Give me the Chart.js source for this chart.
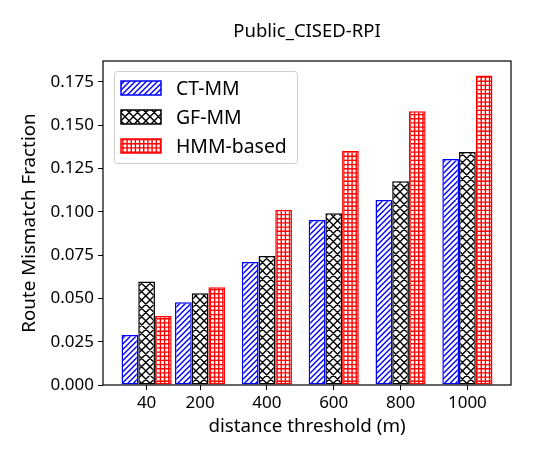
<!DOCTYPE html>
<html>
<head>
<meta charset="utf-8">
<script src="https://cdn.jsdelivr.net/npm/chart.js@4/dist/chart.umd.min.js"></script>
<style>
  html, body { margin: 0; padding: 0; background: #fff; }
  #wrap { width: 534px; height: 459px; }
</style>
</head>
<body>
<div id="wrap"><canvas id="chart"></canvas></div>
<script>
const thresholds = [40, 200, 400, 600, 800, 1000];
const xTickLabels = ['40', '200', '400', '600', '800', '1000'];
const yTicks = [0, 0.025, 0.05, 0.075, 0.1, 0.125, 0.15, 0.175];
const seriesNames = ['CT-MM', 'GF-MM', 'HMM-based'];
const ctmm = [0.0289, 0.0478, 0.0710, 0.0953, 0.1068, 0.1305];
const gfmm = [0.0597, 0.0530, 0.0745, 0.0992, 0.1176, 0.1346];
const hmm = [0.0398, 0.0564, 0.1011, 0.1351, 0.1581, 0.1787];
const chartTitle = 'Public_CISED-RPI';

const FONT = '"Noto Sans", "Open Sans", sans-serif';

// hatch patterns, tile is 100px so the line spacing can be fractional
function makeHatch(kind, color, n) {
    const size = 100;
    const c = document.createElement('canvas');
    c.width = size;
    c.height = size;
    const g = c.getContext('2d');
    g.fillStyle = '#fff';
    g.fillRect(0, 0, size, size);
    g.strokeStyle = color;
    g.lineWidth = 1.4;
    const s = size / n;
    g.beginPath();
    if (kind === '/' || kind === 'x') {
        for (let i = -n; i <= n; i++) {
            g.moveTo(i * s, size);
            g.lineTo(i * s + size, 0);
        }
    }
    if (kind === 'x') {
        for (let i = -n; i <= n; i++) {
            g.moveTo(i * s, 0);
            g.lineTo(i * s + size, size);
        }
    }
    if (kind === '+') {
        for (let i = 0; i < n; i++) {
            g.moveTo(i * s + s / 2, 0);
            g.lineTo(i * s + s / 2, size);
            g.moveTo(0, i * s + s / 2);
            g.lineTo(size, i * s + s / 2);
        }
    }
    g.stroke();
    return document.getElementById('chart').getContext('2d').createPattern(c, 'repeat');
}

const colors = ['#0000ff', '#000000', '#ff0000'];
const patterns = [
    makeHatch('/', colors[0], 18),
    makeHatch('x', colors[1], 12),
    makeHatch('+', colors[2], 24)
];

function points(vals) {
    return thresholds.map((t, i) => ({ x: t, y: vals[i] }));
}

const allSeries = [ctmm, gfmm, hmm];
const datasets = allSeries.map((vals, i) => ({
    label: seriesNames[i],
    data: points(vals),
    backgroundColor: patterns[i],
    borderColor: colors[i],
    borderWidth: 1.5,
    borderSkipped: false,
    barPercentage: 1,
    categoryPercentage: 150 / 160
}));

// title over the plot area, frame around it and the boxed legend
const framePlugin = {
    id: 'frame',
    afterDatasetsDraw(chart) {
        const ctx = chart.ctx;
        const a = chart.chartArea;
        ctx.save();
        ctx.strokeStyle = '#000';
        ctx.lineWidth = 1.2;
        ctx.strokeRect(a.left, a.top, a.right - a.left, a.bottom - a.top);

        ctx.fillStyle = '#000';
        ctx.font = '18.5px ' + FONT;
        ctx.textAlign = 'center';
        ctx.textBaseline = 'middle';
        ctx.fillText(chartTitle, (a.left + a.right) / 2, 32);

        // legend
        const lx = a.left + 11, ly = a.top + 10, lw = 183, lh = 92;
        ctx.fillStyle = 'rgba(255,255,255,0.8)';
        ctx.strokeStyle = '#cccccc';
        ctx.lineWidth = 1;
        ctx.beginPath();
        ctx.roundRect(lx + 0.5, ly + 0.5, lw, lh, 3);
        ctx.fill();
        ctx.stroke();
        ctx.font = '19.4px ' + FONT;
        ctx.textAlign = 'left';
        chart.data.datasets.forEach((ds, i) => {
            const cy = ly + 17 + i * 29;
            ctx.fillStyle = ds.backgroundColor;
            ctx.fillRect(lx + 7, cy - 7, 40, 14);
            ctx.strokeStyle = ds.borderColor;
            ctx.lineWidth = 1.5;
            ctx.strokeRect(lx + 7, cy - 7, 40, 14);
            ctx.fillStyle = '#000';
            ctx.fillText(ds.label, lx + 62, cy + 1);
        });
        ctx.restore();
    }
};

new Chart(document.getElementById('chart'), {
    type: 'bar',
    data: { datasets: datasets },
    plugins: [framePlugin],
    options: {
        responsive: true,
        maintainAspectRatio: false,
        animation: false,
        layout: { padding: { left: 0, right: 23, top: 61, bottom: 0 } },
        plugins: {
            legend: { display: false },
            tooltip: { enabled: false },
            title: { display: false }
        },
        scales: {
            x: {
                type: 'linear',
                min: -90.5,
                max: 1130.5,
                offset: false,
                afterFit(scale) { scale.height = 74; },
                afterBuildTicks(scale) {
                    scale.ticks = thresholds.map(v => ({ value: v }));
                },
                ticks: {
                    color: '#000',
                    font: { family: FONT, size: 17 },
                    padding: 3,
                    maxRotation: 0,
                    autoSkip: false,
                    callback: (v) => xTickLabels[thresholds.indexOf(v)]
                },
                grid: {
                    offset: false,
                    drawOnChartArea: false,
                    drawTicks: true,
                    tickLength: 5,
                    color: '#000',
                    lineWidth: 1
                },
                border: { display: false },
                title: {
                    display: true,
                    text: 'distance threshold (m)',
                    color: '#000',
                    font: { family: FONT, size: 18.8 },
                    padding: { top: 0, bottom: 20.7 }
                }
            },
            y: {
                min: 0,
                max: 0.1871,
                afterFit(scale) { scale.width = 103; },
                afterBuildTicks(scale) {
                    scale.ticks = yTicks.map(v => ({ value: v }));
                },
                ticks: {
                    color: '#000',
                    font: { family: FONT, size: 17 },
                    padding: 4,
                    callback: (v) => v.toFixed(3)
                },
                grid: {
                    drawOnChartArea: false,
                    drawTicks: true,
                    tickLength: 5,
                    color: '#000',
                    lineWidth: 1
                },
                border: { display: false },
                title: {
                    display: true,
                    text: 'Route Mismatch Fraction',
                    color: '#000',
                    font: { family: FONT, size: 18.8 },
                    padding: { top: 18.7, bottom: 0 }
                }
            }
        }
    }
});
</script>
</body>
</html>
